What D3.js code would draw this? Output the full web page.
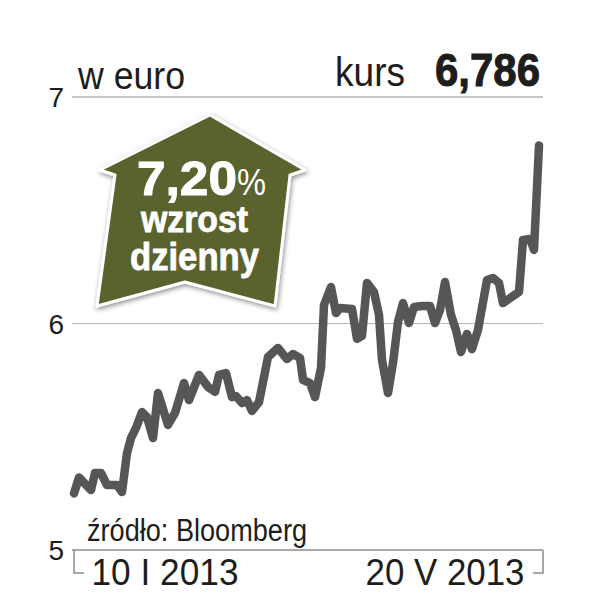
<!DOCTYPE html>
<meta charset="utf-8">
<style>
    html, body { margin: 0; background: #fff; }
    text { font-family: "Liberation Sans Narrow", "Liberation Sans", sans-serif; fill: #1d1d1b; }
</style>
<div id="container"></div>
<script src="https://cdn.jsdelivr.net/npm/d3@7"></script>
<script>
    // Data, session number from 10 I 2013 and price in euro
    let sessions = [0, 1, 3.4, 4.2, 5.4, 6.6, 8.6, 9.6, 10.6, 11.4, 12.4, 13.6, 14.6, 15.8, 16.8, 18.8, 20.2, 22, 23, 25,
        26.8, 28.2, 29, 30.4, 31.6, 32.4, 33.6, 34.6, 35.6, 37, 38.8, 40.8, 42.6, 43.8, 45.2, 45.8, 47.2, 48.2, 49.4, 50,
        51.4, 52.4, 53.2, 55.6, 56.6, 57.6, 58.6, 60, 61, 61.6, 62.8, 63.8, 64.8, 65.8, 67, 68, 69.6, 71.2, 72.2, 73.2,
        74.2, 75.4, 76.4, 77.4, 78.6, 79.6, 80.8, 82.6, 83.8, 85, 85.8, 87.8, 89, 89.8, 91.2, 92, 93];
    let prices = [5.25, 5.32, 5.265, 5.34, 5.34, 5.287, 5.287, 5.256, 5.428, 5.494, 5.539, 5.609, 5.587, 5.494, 5.693, 5.552, 5.605, 5.737, 5.662, 5.773,
        5.72, 5.698, 5.773, 5.781, 5.675, 5.68, 5.649, 5.662, 5.614, 5.653, 5.852, 5.892, 5.843, 5.865, 5.848, 5.751, 5.737, 5.675, 5.804, 6.082,
        6.161, 6.046, 6.068, 6.064, 5.932, 5.945, 6.179, 6.139, 6.038, 5.839, 5.693, 5.826, 6.007, 6.09, 6.002, 6.073, 6.077, 6.077, 6.002, 6.06,
        6.183, 6.038, 5.971, 5.874, 5.954, 5.887, 5.971, 6.192, 6.201, 6.179, 6.09, 6.121, 6.139, 6.369, 6.373, 6.325, 6.786];
    let yTicks = [5, 6, 7];
    let xTicks = [0, 93];
    let xLabels = ["10 I 2013", "20 V 2013"];

    // Set up SVG
    let svg = d3.select("#container")
        .append("svg")
        .attr("width", 613)
        .attr("height", 611)
        .style("display", "block");

    let x = d3.scaleLinear().domain([0, 93]).range([74, 539]);
    let y = d3.scaleLinear().domain([5, 7]).range([550, 97]);

    // Helper so the narrow font lands on the same width as the original
    function label(str, px, py, size, width, weight) {
        return svg.append("text")
            .attr("x", px)
            .attr("y", py)
            .attr("font-size", size)
            .attr("font-weight", weight || "normal")
            .attr("textLength", width)
            .attr("lengthAdjust", "spacingAndGlyphs")
            .text(str);
    }

    // Grid lines
    svg.append("g")
        .selectAll("line")
        .data(yTicks)
        .enter()
        .append("line")
        .attr("x1", 72)
        .attr("x2", 543)
        .attr("y1", (d) => y(d))
        .attr("y2", (d) => y(d))
        .attr("stroke", (d) => d == 6 ? "#b5b5b5" : "#8c8c8c")
        .attr("stroke-width", (d) => d == 5 ? 1.5 : 1);

    // Y axis labels
    let yAxis = svg.append("g")
        .attr("transform", "translate(64,0)")
        .call(d3.axisLeft(y).tickValues(yTicks).tickSize(0).tickPadding(0).tickFormat(d3.format("d")));
    yAxis.select(".domain").remove();
    yAxis.selectAll("text")
        .attr("font-size", 28)
        .attr("font-family", "'Liberation Sans Narrow'")
        .attr("fill", "#1d1d1b")
        .attr("dy", "0.34em");

    // Brackets under the axis
    let bracket = d3.line();
    svg.append("path")
        .attr("d", bracket([[74, 550], [74, 573], [84, 573]]))
        .attr("fill", "none")
        .attr("stroke", "#8c8c8c")
        .attr("stroke-width", 1.5);
    svg.append("path")
        .attr("d", bracket([[543, 550], [543, 573], [533, 573]]))
        .attr("fill", "none")
        .attr("stroke", "#8c8c8c")
        .attr("stroke-width", 1.5);

    // X axis labels
    let xAxis = svg.append("g")
        .attr("transform", "translate(0,550)")
        .call(d3.axisBottom(x).tickValues(xTicks).tickSize(0).tickFormat((d, i) => xLabels[i]));
    xAxis.select(".domain").remove();
    xAxis.selectAll("text")
        .attr("font-size", 37)
        .attr("font-family", "'Liberation Sans Narrow'")
        .attr("fill", "#1d1d1b")
        .attr("text-anchor", (d, i) => i == 0 ? "start" : "end")
        .attr("x", (d, i) => i == 0 ? 17 : -15)
        .attr("y", 35)
        .attr("dy", 0)
        .attr("textLength", (d, i) => i == 0 ? 147 : 159)
        .attr("lengthAdjust", "spacingAndGlyphs");

    // Price line
    let line = d3.line()
        .x((d, i) => x(sessions[i]))
        .y((d) => y(d));
    svg.append("path")
        .attr("d", line(prices))
        .attr("fill", "none")
        .attr("stroke", "#555655")
        .attr("stroke-width", 8.5)
        .attr("stroke-linejoin", "round")
        .attr("stroke-linecap", "round");

    // Header and source
    label("w euro", 78, 89, 39, 107);
    label("kurs", 335, 86, 41, 70);
    label("6,786", 435, 86, 46, 105, "bold")
        .style("stroke", "#1d1d1b").style("stroke-width", 1);
    label("źródło: Bloomberg", 87, 541, 31, 220);

    // Arrow badge
    let defs = svg.append("defs");
    let blur = defs.append("filter").attr("id", "shadow")
        .attr("x", "-10%").attr("y", "-10%").attr("width", "120%").attr("height", "120%");
    blur.append("feDropShadow")
        .attr("dx", 1).attr("dy", 2).attr("stdDeviation", 2.5)
        .attr("flood-color", "#000").attr("flood-opacity", 0.45);

    let arrow = [[210, 115], [305, 170], [290, 175], [275, 306], [185, 282], [97, 306], [115, 175], [100, 170]];
    svg.append("path")
        .attr("d", d3.line()(arrow) + "Z")
        .attr("fill", "#5a622f")
        .attr("stroke", "#fff")
        .attr("stroke-width", 3)
        .attr("stroke-linejoin", "round")
        .attr("filter", "url(#shadow)");

    label("7,20", 137, 195, 48, 100, "bold")
        .style("fill", "#fff").style("stroke", "#fff").style("stroke-width", 1);
    label("%", 237, 195, 36, 29).style("fill", "#fff");
    label("wzrost", 141, 232, 37, 107, "bold")
        .style("fill", "#fff").style("stroke", "#fff").style("stroke-width", 0.8);
    label("dzienny", 130, 270, 38, 129, "bold")
        .style("fill", "#fff").style("stroke", "#fff").style("stroke-width", 0.8);
</script>
